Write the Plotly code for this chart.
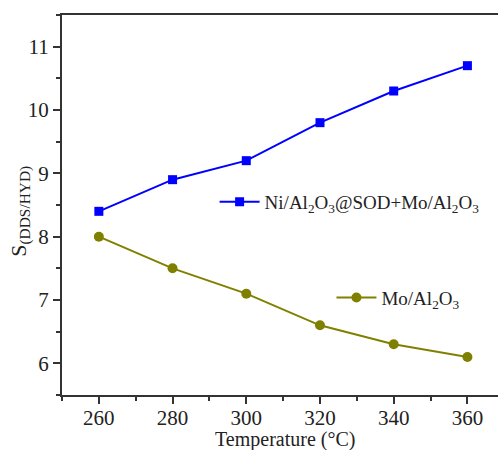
import plotly.graph_objects as go

temperature = [260, 280, 300, 320, 340, 360]
ni_sod_mo = [8.4, 8.9, 9.2, 9.8, 10.3, 10.7]
mo_al2o3 = [8.0, 7.5, 7.1, 6.6, 6.3, 6.1]

FONT = "Liberation Serif"

fig = go.Figure()
fig.add_trace(go.Scatter(
    x=temperature, y=ni_sod_mo, mode="lines+markers",
    name="Ni/Al<sub>2</sub>O<sub>3</sub>@SOD+Mo/Al<sub>2</sub>O<sub>3</sub>",
    line=dict(color="#0000FF", width=2),
    marker=dict(symbol="square", size=9, color="#0000FF"),
    legend="legend",
))
fig.add_trace(go.Scatter(
    x=temperature, y=mo_al2o3, mode="lines+markers",
    name="Mo/Al<sub>2</sub>O<sub>3</sub>",
    line=dict(color="#808000", width=2),
    marker=dict(symbol="circle", size=10, color="#808000"),
    legend="legend2",
))

fig.add_annotation(text="Temperature (°C)", xref="paper", yref="paper",
                   x=0.511, y=-0.118, xanchor="center", yanchor="middle",
                   showarrow=False, font=dict(family=FONT, size=20, color="#222"))
fig.add_annotation(text="S<sub>(DDS/HYD)</sub>", xref="paper", yref="paper",
                   x=-0.097, y=0.484, xanchor="center", yanchor="middle", textangle=-90,
                   showarrow=False, font=dict(family=FONT, size=22, color="#222"))

fig.update_layout(
    width=498, height=450,
    margin=dict(l=62, r=0, t=15, b=55),
    paper_bgcolor="white", plot_bgcolor="white",
    font=dict(family=FONT, size=18, color="#222"),
    legend=dict(x=0.35, y=0.508, xanchor="left", yanchor="middle",
                bgcolor="rgba(0,0,0,0)", font=dict(family=FONT, size=19, color="#222"),
                itemwidth=40),
    legend2=dict(x=0.618, y=0.256, xanchor="left", yanchor="middle",
                 bgcolor="rgba(0,0,0,0)", font=dict(family=FONT, size=19, color="#222"),
                 itemwidth=40),
    xaxis=dict(
        range=[250, 368.3], tickvals=temperature, ticks="outside", ticklen=7,
        tickwidth=1.5, tickcolor="#333", showline=True, linecolor="#333", linewidth=2, mirror=True,
        showgrid=False, zeroline=False, automargin=False, ticklabelstandoff=-4,
        minor=dict(tickvals=[250, 270, 290, 310, 330, 350], ticks="outside", ticklen=4,
                   tickwidth=1.5, tickcolor="#333"),
        tickfont=dict(family=FONT, size=21, color="#222"),
    ),
    yaxis=dict(
        range=[5.5, 11.5], tickvals=[6, 7, 8, 9, 10, 11], ticks="outside", ticklen=7,
        tickwidth=1.5, tickcolor="#333", showline=True, linecolor="#333", linewidth=2, mirror=False,
        showgrid=False, zeroline=False, automargin=False,
        minor=dict(tickvals=[5.5, 6.5, 7.5, 8.5, 9.5, 10.5, 11.5], ticks="outside", ticklen=4,
                   tickwidth=1.5, tickcolor="#333"),
        tickfont=dict(family=FONT, size=21, color="#222"),
    ),
    showlegend=True,
)

fig.write_html("out.html", config={"displayModeBar": False},
               post_script="document.body.style.margin='0';document.body.style.padding='0';")
